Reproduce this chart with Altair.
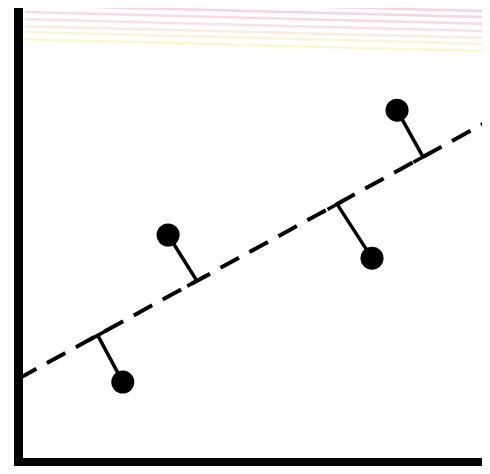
import altair as alt
import pandas as pd

# observed points (data units)
pt_x = [2.22, 3.18, 7.50, 8.03]
pt_y = [1.76, 5.00, 4.49, 7.75]
# feet of residuals on the fitted line
foot_x = [1.69, 3.79, 6.76, 8.58]
foot_y = [2.79, 3.99, 5.68, 6.72]
# fitted (dashed) line end points
fit_x = [0.0, 10.0]
fit_y = [1.83, 7.53]
# faint decorative stripes at top
stripe_y_right = [9.93, 9.80, 9.65, 9.49, 9.34, 9.21, 9.05]
stripe_y_left = [10.19, 10.06, 9.91, 9.75, 9.60, 9.47, 9.31]
stripe_col = ["#eeb0cc", "#eeb0cc", "#f0bcd2", "#f3c8d6", "#f6dcc8", "#f8ecb8", "#f8f0a8"]

pts = pd.DataFrame({"x": pt_x, "y": pt_y, "fx": foot_x, "fy": foot_y})
fit = pd.DataFrame({"x": fit_x, "y": fit_y})
stripes = pd.DataFrame({
    "x": [0.15] * len(stripe_y_left) + [10.0] * len(stripe_y_right),
    "y": stripe_y_left + stripe_y_right,
    "id": list(range(len(stripe_y_left))) * 2,
    "c": stripe_col * 2,
})

xs = alt.Scale(domain=[0, 9.83], nice=False, zero=False)
ys = alt.Scale(domain=[0, 10], nice=False, zero=False)
xa = alt.Axis(domainWidth=9, domainColor="black", domainCap="square", ticks=False,
              labels=False, title=None, grid=False)
ya = alt.Axis(domainWidth=9, domainColor="black", domainCap="square", ticks=False,
              labels=False, title=None, grid=False)

stripe_layer = alt.Chart(stripes).mark_line(strokeWidth=2.5, opacity=0.55, clip=True).encode(
    x=alt.X("x:Q", scale=xs, axis=xa),
    y=alt.Y("y:Q", scale=ys, axis=ya),
    detail="id:N",
    color=alt.Color("c:N", scale=None),
)

fit_layer = alt.Chart(fit).mark_line(color="black", strokeWidth=4, strokeDash=[21, 12],
                                     strokeCap="butt", clip=True).encode(
    x=alt.X("x:Q", scale=xs), y=alt.Y("y:Q", scale=ys)
)

resid = alt.Chart(pts).mark_rule(color="black", strokeWidth=3.5).encode(
    x=alt.X("x:Q", scale=xs), y=alt.Y("y:Q", scale=ys),
    x2="fx:Q", y2="fy:Q",
)

caps = alt.Chart(pts).mark_point(shape="stroke", size=484, angle=331.2, color="black",
                                 strokeWidth=3.5, opacity=1, filled=False).encode(
    x=alt.X("fx:Q", scale=xs), y=alt.Y("fy:Q", scale=ys)
)

dots = alt.Chart(pts).mark_circle(size=530, color="black", opacity=1).encode(
    x=alt.X("x:Q", scale=xs), y=alt.Y("y:Q", scale=ys)
)

chart = alt.layer(stripe_layer, fit_layer, resid, caps, dots).properties(
    width=464, height=454,
    padding={"left": 10, "top": 0, "right": 0, "bottom": 4},
    autosize=alt.AutoSizeParams(type="none"),
    background="white",
).configure_view(stroke=None)

chart.save("out.html", embed_options={"renderer": "svg", "actions": False})
